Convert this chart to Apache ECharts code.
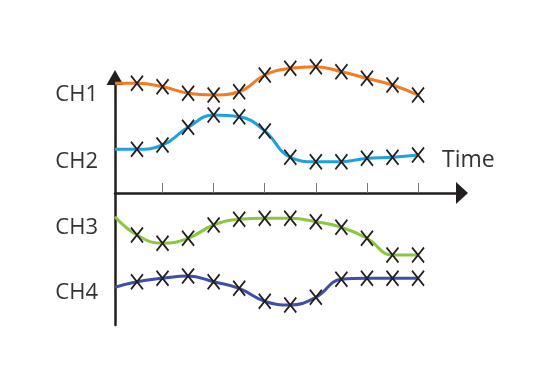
<!DOCTYPE html>
<html><head><meta charset="utf-8">
<script src="https://cdn.jsdelivr.net/npm/echarts@6/dist/echarts.min.js"></script>
<style>html,body{margin:0;padding:0;background:#fff}#c{width:550px;height:372px}</style>
</head><body><div id="c"></div>
<script>
// time steps of the X samples
const times = [1, 2, 3, 4, 5, 6, 7, 8, 9, 10, 11, 12];
const startTime = 0.14;           // where each trace leaves the vertical axis
const timeTicks = [2, 4, 6, 8, 10, 12];

// channel traces (arbitrary signal units, 0 = time axis)
const ch1Start = 109.7;
const ch1 = [109.7, 106.3, 99.7, 98, 101.3, 118, 124.7, 126.3, 121.3, 114.7, 108, 98];
const ch2Start = 43.7;
const ch2 = [43.7, 48, 65.7, 78, 76.3, 62, 35.7, 31.3, 31.3, 34.7, 35.7, 38];
const ch3Start = -23.7;
const ch3 = [-42, -50.3, -45.3, -32, -26.3, -25.3, -25.3, -28.7, -34.3, -45.3, -62, -62];
const ch4Start = -94.3;
const ch4 = [-88.7, -85.3, -83, -88.7, -95.3, -108.2, -112, -104.3, -86.3, -85.3, -85.3, -85.3];

// channel labels on the vertical axis
const channelNames = ['CH1', 'CH2', 'CH3', 'CH4'];
const channelLabelPos = [98.3, 31, -34.5, -99.5];
const axisName = 'Time';

const axisColor = '#231F20';
const colors = ['#F47B20', '#1DA1DF', '#8CC63F', '#3F4FA5'];
const starts = [ch1Start, ch2Start, ch3Start, ch4Start];
const traces = [ch1, ch2, ch3, ch4];

function buildData(start, vals) {
  return [{ value: [startTime, start], symbol: 'none' }]
    .concat(times.map((t, i) => [t, vals[i]]));
}

const chart = echarts.init(document.getElementById('c'), null, { renderer: 'canvas' });
chart.setOption({
  animation: false,
  backgroundColor: '#fff',
  title: { text: axisName, left: 437, top: 144,
    textStyle: { color: '#333', fontSize: 23, fontWeight: 'normal', fontFamily: 'Open Sans' } },
  grid: { left: 115, right: 88, top: 77.5, bottom: 47, containLabel: false },
  xAxis: {
    type: 'value', min: startTime, max: 13.72,
    axisLine: { onZero: true, symbol: ['none', 'triangle'], symbolSize: [22, 12],
      lineStyle: { color: axisColor, width: 2.5 } },
    axisTick: { show: true, inside: true, length: 10, customValues: timeTicks,
      lineStyle: { color: '#777', width: 1 } },
    axisLabel: { show: false },
    splitLine: { show: false }
  },
  yAxis: {
    type: 'value', min: -132, max: 115.5,
    axisLine: { show: true, onZero: false, symbol: ['none', 'triangle'], symbolSize: [17, 15],
      lineStyle: { color: axisColor, width: 2.5 } },
    axisTick: { show: false },
    axisLabel: { show: true, customValues: channelLabelPos, margin: 17,
      color: '#333', fontSize: 22, fontFamily: 'Open Sans',
      formatter: function (v) {
        const i = channelLabelPos.findIndex(p => Math.abs(p - v) < 0.01);
        return i >= 0 ? channelNames[i] : '';
      } },
    splitLine: { show: false }
  },
  series: traces.map((vals, k) => ({
    type: 'line',
    smooth: 0.45,
    clip: false,
    data: buildData(starts[k], vals),
    lineStyle: { color: colors[k], width: 3 },
    symbol: 'path://M0,0L12,14M12,0L0,14',
    symbolSize: [12, 15],
    showSymbol: true,
    itemStyle: { color: 'rgba(0,0,0,0)', borderColor: axisColor, borderWidth: 1.8 },
    z: 3
  }))
});
</script></body></html>
